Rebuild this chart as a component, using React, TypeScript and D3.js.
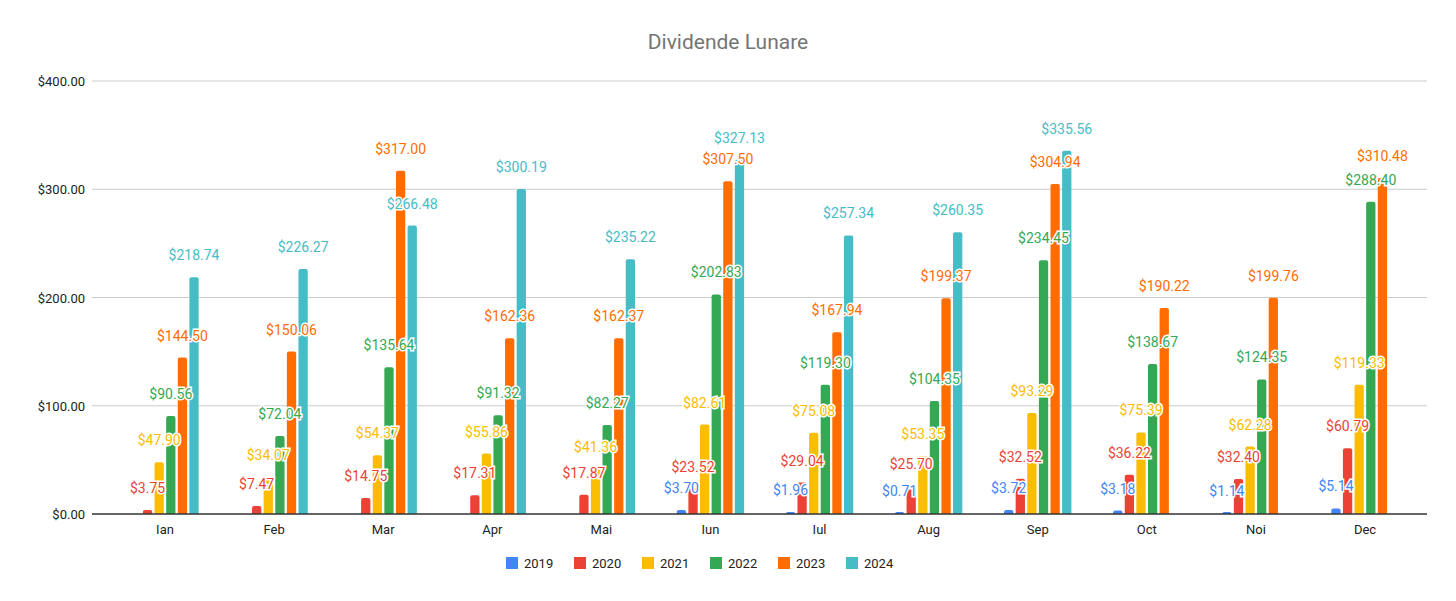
import * as d3 from "d3";
import { useEffect, useRef } from "react";

const months = ["Ian", "Feb", "Mar", "Apr", "Mai", "Iun", "Iul", "Aug", "Sep", "Oct", "Noi", "Dec"];
const years = ["2019", "2020", "2021", "2022", "2023", "2024"];
const colors = ["#4285F4", "#EA4335", "#FBBC04", "#34A853", "#FF6D01", "#46BDC6"];

const v2019 = [null, null, null, null, null, 3.7, 1.96, 0.71, 3.72, 3.18, 1.14, 5.14];
const v2020 = [3.75, 7.47, 14.75, 17.31, 17.87, 23.52, 29.04, 25.7, 32.52, 36.22, 32.4, 60.79];
const v2021 = [47.9, 34.07, 54.37, 55.86, 41.36, 82.61, 75.08, 53.35, 93.29, 75.39, 62.28, 119.33];
const v2022 = [90.56, 72.04, 135.64, 91.32, 82.27, 202.83, 119.3, 104.35, 234.45, 138.67, 124.35, 288.4];
const v2023 = [144.5, 150.06, 317.0, 162.36, 162.37, 307.5, 167.94, 199.37, 304.94, 190.22, 199.76, 310.48];
const v2024 = [218.74, 226.27, 266.48, 300.19, 235.22, 327.13, 257.34, 260.35, 335.56, null, null, null];
const series = [v2019, v2020, v2021, v2022, v2023, v2024];
const yTicks = [0, 100, 200, 300, 400];

export default function App() {
  const svgRef = useRef<SVGSVGElement>(null);

  useEffect(() => {
    if (!svgRef.current) return;
    const svg = d3.select(svgRef.current);
    svg.selectAll("*").remove();
    const font = "Roboto, Arial, sans-serif";

    const x = d3.scalePoint<string>().domain(months).range([165, 1365]);
    const xs = d3.scaleBand<string>().domain(years).range([-36, 36]).padding(0.2);
    const y = d3.scaleLinear().domain([0, 400]).range([514, 81]);

    svg.append("text")
      .attr("x", 728).attr("y", 49)
      .attr("text-anchor", "middle")
      .attr("font-family", font).attr("font-size", 21)
      .attr("fill", "#757575")
      .text("Dividende Lunare");

    // grid + y labels
    yTicks.forEach((t) => {
      if (t > 0)
        svg.append("line")
          .attr("x1", 92).attr("x2", 1427)
          .attr("y1", y(t)).attr("y2", y(t))
          .attr("stroke", "#cccccc");
      svg.append("text")
        .attr("x", 85).attr("y", y(t) + 5)
        .attr("text-anchor", "end")
        .attr("font-family", font).attr("font-size", 13)
        .attr("fill", "#222")
        .text(d3.format("$,.2f")(t));
    });

    // bars
    series.forEach((vals, si) => {
      vals.forEach((v, mi) => {
        if (v == null) return;
        const bx = (x(months[mi]) ?? 0) + (xs(years[si]) ?? 0);
        const h = Math.max(y(0) - y(v), 2);
        svg.append("path")
          .attr("d", roundTop(bx, y(0) - h, xs.bandwidth(), h, 2))
          .attr("fill", colors[si]);
      });
    });

    // labels (after bars so they sit on top)
    series.forEach((vals, si) => {
      vals.forEach((v, mi) => {
        if (v == null) return;
        const cx = (x(months[mi]) ?? 0) + (xs(years[si]) ?? 0) + xs.bandwidth() / 2;
        svg.append("text")
          .attr("x", cx).attr("y", y(v) - 17)
          .attr("text-anchor", "middle")
          .attr("font-family", font).attr("font-size", 14)
          .attr("fill", colors[si])
          .attr("stroke", "white").attr("stroke-width", 3)
          .attr("paint-order", "stroke")
          .text(d3.format("$,.2f")(v));
      });
    });

    svg.append("line")
      .attr("x1", 92).attr("x2", 1427)
      .attr("y1", y(0)).attr("y2", y(0))
      .attr("stroke", "#333").attr("stroke-width", 1.5);

    months.forEach((m) => {
      svg.append("text")
        .attr("x", x(m) ?? 0).attr("y", 534)
        .attr("text-anchor", "middle")
        .attr("font-family", font).attr("font-size", 13)
        .attr("fill", "#222")
        .text(m);
    });

    // legend
    const lx = d3.scalePoint<string>().domain(years).range([512, 852]);
    years.forEach((yr, i) => {
      const gx = lx(yr) ?? 0;
      svg.append("rect")
        .attr("x", gx - 6).attr("y", 557)
        .attr("width", 12).attr("height", 12)
        .attr("fill", colors[i]);
      svg.append("text")
        .attr("x", gx + 12).attr("y", 568)
        .attr("font-family", font).attr("font-size", 13)
        .attr("fill", "#222")
        .text(yr);
    });
  }, []);

  return (
    <div style={{ margin: -8 }}>
      <svg ref={svgRef} width={1456} height={601} style={{ display: "block", background: "white" }} />
    </div>
  );
}

function roundTop(x: number, y: number, w: number, h: number, r: number) {
  const rr = Math.min(r, h, w / 2);
  return `M${x},${y + h}V${y + rr}Q${x},${y} ${x + rr},${y}H${x + w - rr}Q${x + w},${y} ${x + w},${y + rr}V${y + h}Z`;
}
